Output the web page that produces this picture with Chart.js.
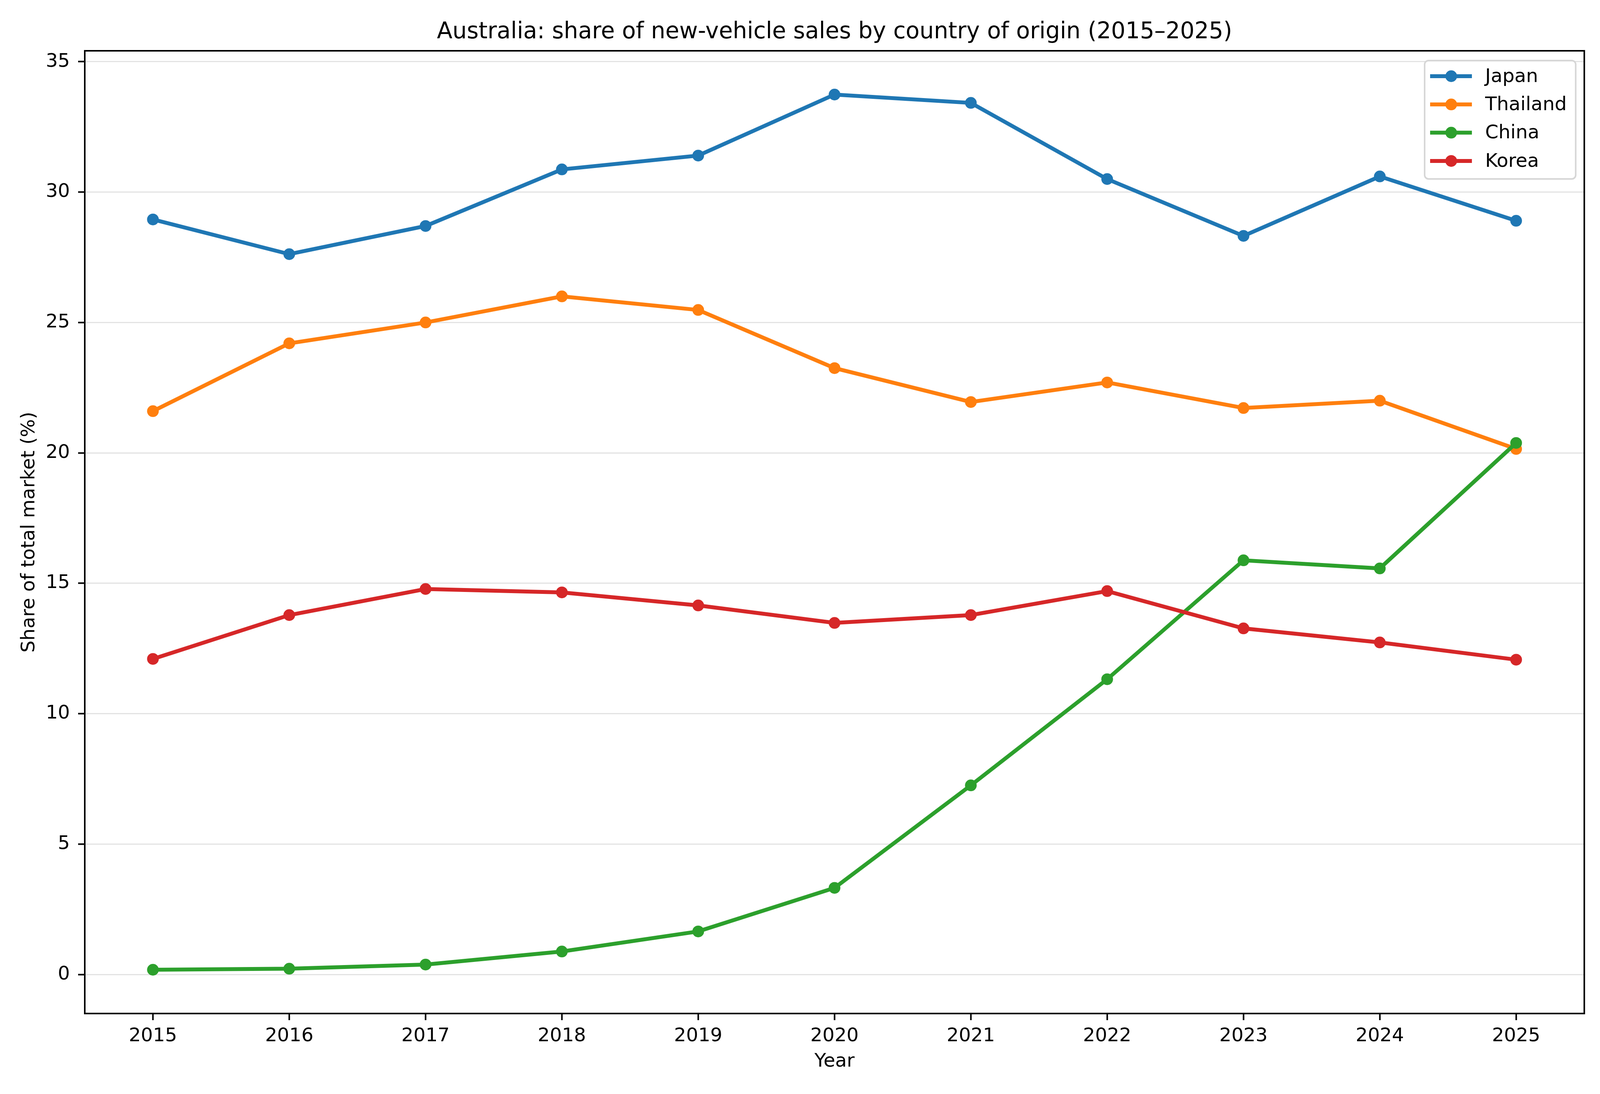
<!DOCTYPE html>
<html>
<head>
<meta charset="utf-8">
<script src="https://cdn.jsdelivr.net/npm/chart.js@4.4.1/dist/chart.umd.min.js"></script>
<style>
  html, body { margin: 0; padding: 0; background: #fff; overflow: hidden; }
  canvas { display: block; }
</style>
</head>
<body>
<canvas id="chart"></canvas>
<script>
// Data
var years = ['2015', '2016', '2017', '2018', '2019', '2020', '2021', '2022', '2023', '2024', '2025'];
var japan    = [28.95, 27.62, 28.70, 30.87, 31.40, 33.74, 33.42, 30.50, 28.32, 30.60, 28.90];
var thailand = [21.60, 24.20, 25.00, 26.00, 25.48, 23.25, 21.95, 22.70, 21.72, 22.00, 20.15];
var china    = [0.18, 0.22, 0.38, 0.88, 1.65, 3.32, 7.25, 11.32, 15.88, 15.57, 20.38];
var korea    = [12.10, 13.78, 14.78, 14.65, 14.15, 13.48, 13.78, 14.70, 13.27, 12.73, 12.07];
var yTicks = [0, 5, 10, 15, 20, 25, 30, 35];

var seriesNames  = ['Japan', 'Thailand', 'China', 'Korea'];
var seriesValues = [japan, thailand, china, korea];
var seriesColors = ['#1f77b4', '#ff7f0e', '#2ca02c', '#d62728'];

Chart.defaults.font.family = "'DejaVu Sans', sans-serif";
Chart.defaults.color = '#000';

// size the canvas to the actual window (it may be narrower than 5600)
var W = window.innerWidth || 5600;
var H = window.innerHeight || 2800;
var sy = H / 2800;
var canvas = document.getElementById('chart');
canvas.width = W;
canvas.height = H;
canvas.style.width = W + 'px';
canvas.style.height = H + 'px';

// y limits like matplotlib's 5% auto-margin
var all = [].concat(japan, thailand, china, korea);
var dMin = Math.min.apply(null, all), dMax = Math.max.apply(null, all);
var pad = (dMax - dMin) * 0.05;

var FS = 48.6 * sy;

// box around the axes (top and right edges)
var framePlugin = {
    id: 'frame',
    afterDraw: function (chart) {
        var a = chart.chartArea, ctx = chart.ctx;
        ctx.save();
        ctx.strokeStyle = '#000';
        ctx.lineWidth = 4;
        ctx.strokeRect(a.left, a.top, a.right - a.left, a.bottom - a.top);
        ctx.restore();
    }
};

// matplotlib-style legend in the upper right of the axes
var legendPlugin = {
    id: 'mplLegend',
    afterDraw: function (chart) {
        var a = chart.chartArea, ctx = chart.ctx;
        var sets = chart.data.datasets;
        ctx.save();
        ctx.font = FS + "px 'DejaVu Sans'";
        var maxW = 0;
        sets.forEach(function (d) { maxW = Math.max(maxW, ctx.measureText(d.label).width); });
        var w = 155 + maxW + 23;
        var rowH = 72.3 * sy;
        var h = 40 * sy + rowH * (sets.length - 1) + 46 * sy;
        var right = a.right - 22, top = a.top + 25 * sy, left = right - w;

        ctx.beginPath();
        ctx.roundRect(left, top, w, h, 10);
        ctx.fillStyle = 'rgba(255,255,255,0.8)';
        ctx.fill();
        ctx.lineWidth = 4;
        ctx.strokeStyle = '#d6d6d6';
        ctx.stroke();

        sets.forEach(function (d, i) {
            var y = top + 40 * sy + i * rowH;
            ctx.strokeStyle = d.borderColor;
            ctx.lineWidth = 10;
            ctx.beginPath();
            ctx.moveTo(left + 14, y);
            ctx.lineTo(left + 121, y);
            ctx.stroke();
            ctx.fillStyle = d.borderColor;
            ctx.beginPath();
            ctx.arc(left + 68, y, 15, 0, Math.PI * 2);
            ctx.fill();
            ctx.fillStyle = '#000';
            ctx.textAlign = 'left';
            ctx.textBaseline = 'middle';
            ctx.fillText(d.label, left + 155, y + 2);
        });
        ctx.restore();
    }
};

var datasets = seriesNames.map(function (name, i) {
    return {
        label: name,
        data: seriesValues[i],
        borderColor: seriesColors[i],
        backgroundColor: seriesColors[i],
        pointBackgroundColor: seriesColors[i],
        borderWidth: 10,
        pointRadius: 15,
        pointBorderWidth: 0,
        tension: 0,
        // later series drawn on top, as in the reference
        order: seriesNames.length - i
    };
});

new Chart(canvas, {
    type: 'line',
    data: { labels: years, datasets: datasets },
    plugins: [framePlugin, legendPlugin],
    options: {
        responsive: false,
        animation: false,
        devicePixelRatio: 1,
        layout: { padding: { left: 0, right: 55 * W / 5600, top: 0, bottom: 0 } },
        plugins: {
            legend: { display: false },
            tooltip: { enabled: false },
            title: {
                display: true,
                text: 'Australia: share of new-vehicle sales by country of origin (2015\u20132025)',
                fullSize: false,
                font: { size: 58 * sy, weight: 'normal' },
                color: '#000',
                padding: { top: 48 * sy, bottom: 12.4 * sy }
            }
        },
        scales: {
            x: {
                type: 'category',
                offset: true,
                afterFit: function (s) { s.height = 206 * sy; },
                grid: {
                    drawOnChartArea: false,
                    drawTicks: true,
                    tickLength: 17,
                    tickColor: '#000',
                    tickWidth: 4
                },
                border: { display: true, color: '#000', width: 4 },
                ticks: { font: { size: FS }, color: '#000', padding: 12 * sy, maxRotation: 0, autoSkip: false },
                title: {
                    display: true,
                    text: 'Year',
                    font: { size: FS },
                    color: '#000',
                    padding: { top: 0, bottom: 53 * sy }
                }
            },
            y: {
                min: dMin - pad,
                max: dMax + pad,
                afterFit: function (s) { s.width = 217; },
                afterBuildTicks: function (s) {
                    s.ticks = yTicks.map(function (v) { return { value: v }; });
                },
                grid: {
                    color: '#e3e3e3',
                    lineWidth: 3,
                    drawTicks: true,
                    tickLength: 17,
                    tickColor: '#000',
                    tickWidth: 4
                },
                border: { display: true, color: '#000', width: 4 },
                ticks: { font: { size: FS }, color: '#000', padding: 21 },
                title: {
                    display: true,
                    text: 'Share of total market (%)',
                    font: { size: FS },
                    color: '#000',
                    padding: { top: 46, bottom: 0 }
                }
            }
        }
    }
});
</script>
</body>
</html>
